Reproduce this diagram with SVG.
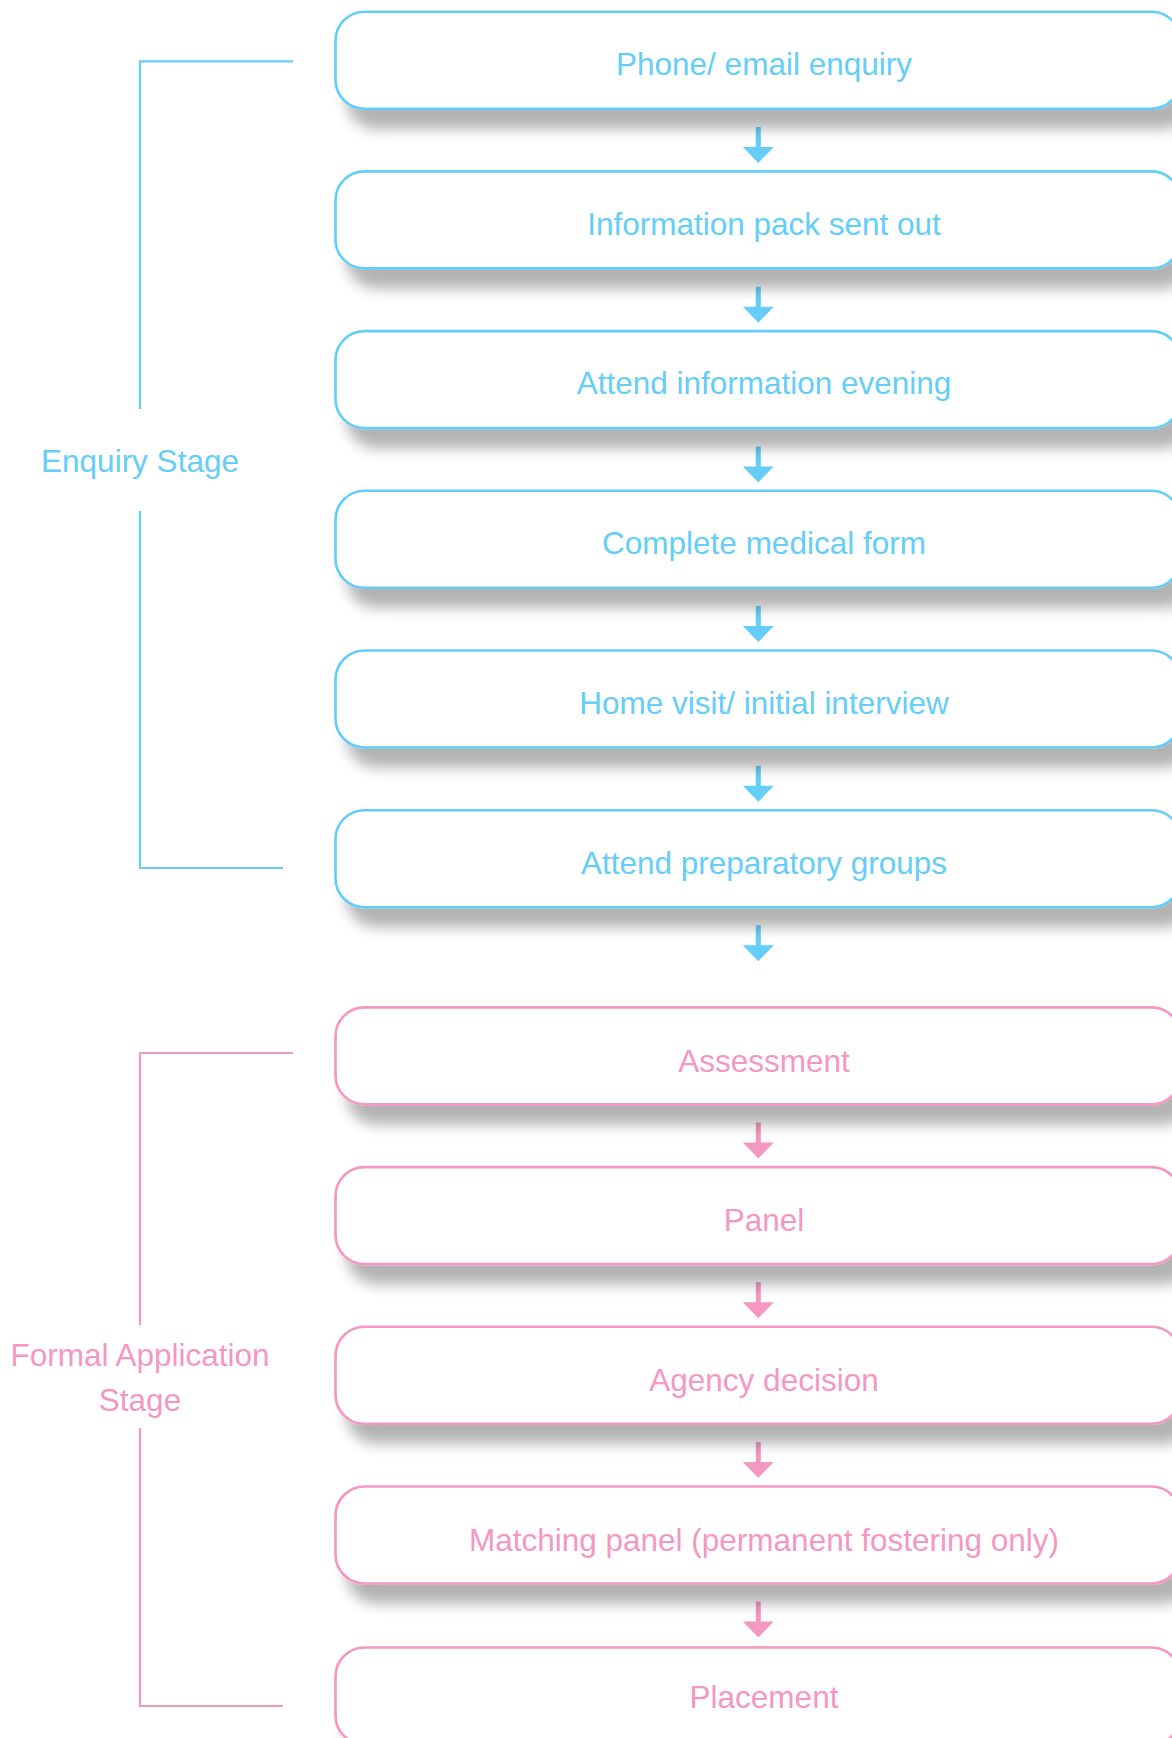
<svg xmlns="http://www.w3.org/2000/svg" width="1172" height="1738" viewBox="0 0 1172 1738">
  <style>
    .box { fill: #ffffff; stroke-width: 2.6; filter: url(#shadow); }
    .blue .box { stroke: #64cdf8; }
    .pink .box { stroke: #f497c1; }
    .lbl { font-family: "Liberation Sans", Arial, sans-serif; font-size: 31.5px; text-anchor: middle; }
    .blue .lbl, text.blue { fill: #64cdf8; }
    .pink .lbl, text.pink { fill: #f497c1; }
    .bracket { fill: none; stroke-width: 2.2; }
    .bracket.blue { stroke: #64cdf8; }
    .bracket.pink { stroke: #f497c1; }
    .arrow.blue { fill: #64cdf8; }
    .arrow.pink { fill: #f497c1; }
  </style>
  <defs>
    <filter id="shadow" x="-5%" y="-30%" width="115%" height="190%">
      <feGaussianBlur in="SourceAlpha" stdDeviation="7"/>
      <feOffset dx="12" dy="19" result="b"/>
      <feComponentTransfer><feFuncA type="linear" slope="0.3"/></feComponentTransfer>
      <feMerge><feMergeNode/><feMergeNode in="SourceGraphic"/></feMerge>
    </filter>
    <path id="arr" d="M-2.5,0 H2.5 V20 H15.5 L0,36 L-15.5,20 H-2.5 Z"/>
  </defs>
  <rect width="1172" height="1738" fill="#ffffff"/>

  <g id="stage-labels">
    <g id="enquiry-stage">
      <path class="bracket blue" d="M293,61.3 H140 V409 M140,511 V868 H283"/>
      <text class="lbl blue" x="140" y="471.7" style="fill:#64cdf8">Enquiry Stage</text>
    </g>
    <g id="formal-stage">
      <path class="bracket pink" d="M293,1053 H140 V1325 M140,1428 V1706 H283"/>
      <text class="lbl pink" x="140" y="1365.7" style="fill:#f497c1">Formal Application</text>
      <text class="lbl pink" x="140" y="1411" style="fill:#f497c1">Stage</text>
    </g>
  </g>

  <g id="connectors">
    <use href="#arr" class="arrow blue" x="758.3" y="127"/>
    <use href="#arr" class="arrow blue" x="758.3" y="286.7"/>
    <use href="#arr" class="arrow blue" x="758.3" y="446.4"/>
    <use href="#arr" class="arrow blue" x="758.3" y="606.1"/>
    <use href="#arr" class="arrow blue" x="758.3" y="765.8"/>
    <use href="#arr" class="arrow blue" x="758.3" y="925.3"/>
    <use href="#arr" class="arrow pink" x="758.3" y="1122.5"/>
    <use href="#arr" class="arrow pink" x="758.3" y="1282.2"/>
    <use href="#arr" class="arrow pink" x="758.3" y="1441.9"/>
    <use href="#arr" class="arrow pink" x="758.3" y="1601.6"/>
  </g>

  <g id="n1" class="blue"><rect class="box" x="335.5" y="11.7" width="845" height="97" rx="29"/><text class="lbl" x="764" y="75">Phone/ email enquiry</text></g>
  <g id="n2" class="blue"><rect class="box" x="335.5" y="171.4" width="845" height="97" rx="29"/><text class="lbl" x="764" y="234.7">Information pack sent out</text></g>
  <g id="n3" class="blue"><rect class="box" x="335.5" y="331.1" width="845" height="97" rx="29"/><text class="lbl" x="764" y="394.4">Attend information evening</text></g>
  <g id="n4" class="blue"><rect class="box" x="335.5" y="490.8" width="845" height="97" rx="29"/><text class="lbl" x="764" y="554.1">Complete medical form</text></g>
  <g id="n5" class="blue"><rect class="box" x="335.5" y="650.5" width="845" height="97" rx="29"/><text class="lbl" x="764" y="713.8">Home visit/ initial interview</text></g>
  <g id="n6" class="blue"><rect class="box" x="335.5" y="810.2" width="845" height="97" rx="29"/><text class="lbl" x="764" y="873.5">Attend preparatory groups</text></g>
  <g id="n7" class="pink"><rect class="box" x="335.5" y="1007.4" width="845" height="97" rx="29"/><text class="lbl" x="764" y="1071.5">Assessment</text></g>
  <g id="n8" class="pink"><rect class="box" x="335.5" y="1167.1" width="845" height="97" rx="29"/><text class="lbl" x="764" y="1231.2">Panel</text></g>
  <g id="n9" class="pink"><rect class="box" x="335.5" y="1326.8" width="845" height="97" rx="29"/><text class="lbl" x="764" y="1390.9">Agency decision</text></g>
  <g id="n10" class="pink"><rect class="box" x="335.5" y="1486.5" width="845" height="97" rx="29"/><text class="lbl" x="764" y="1550.6">Matching panel (permanent fostering only)</text></g>
  <g id="n11" class="pink"><rect class="box" x="335.5" y="1647.5" width="845" height="97" rx="29"/><text class="lbl" x="764" y="1708">Placement</text></g>
</svg>
